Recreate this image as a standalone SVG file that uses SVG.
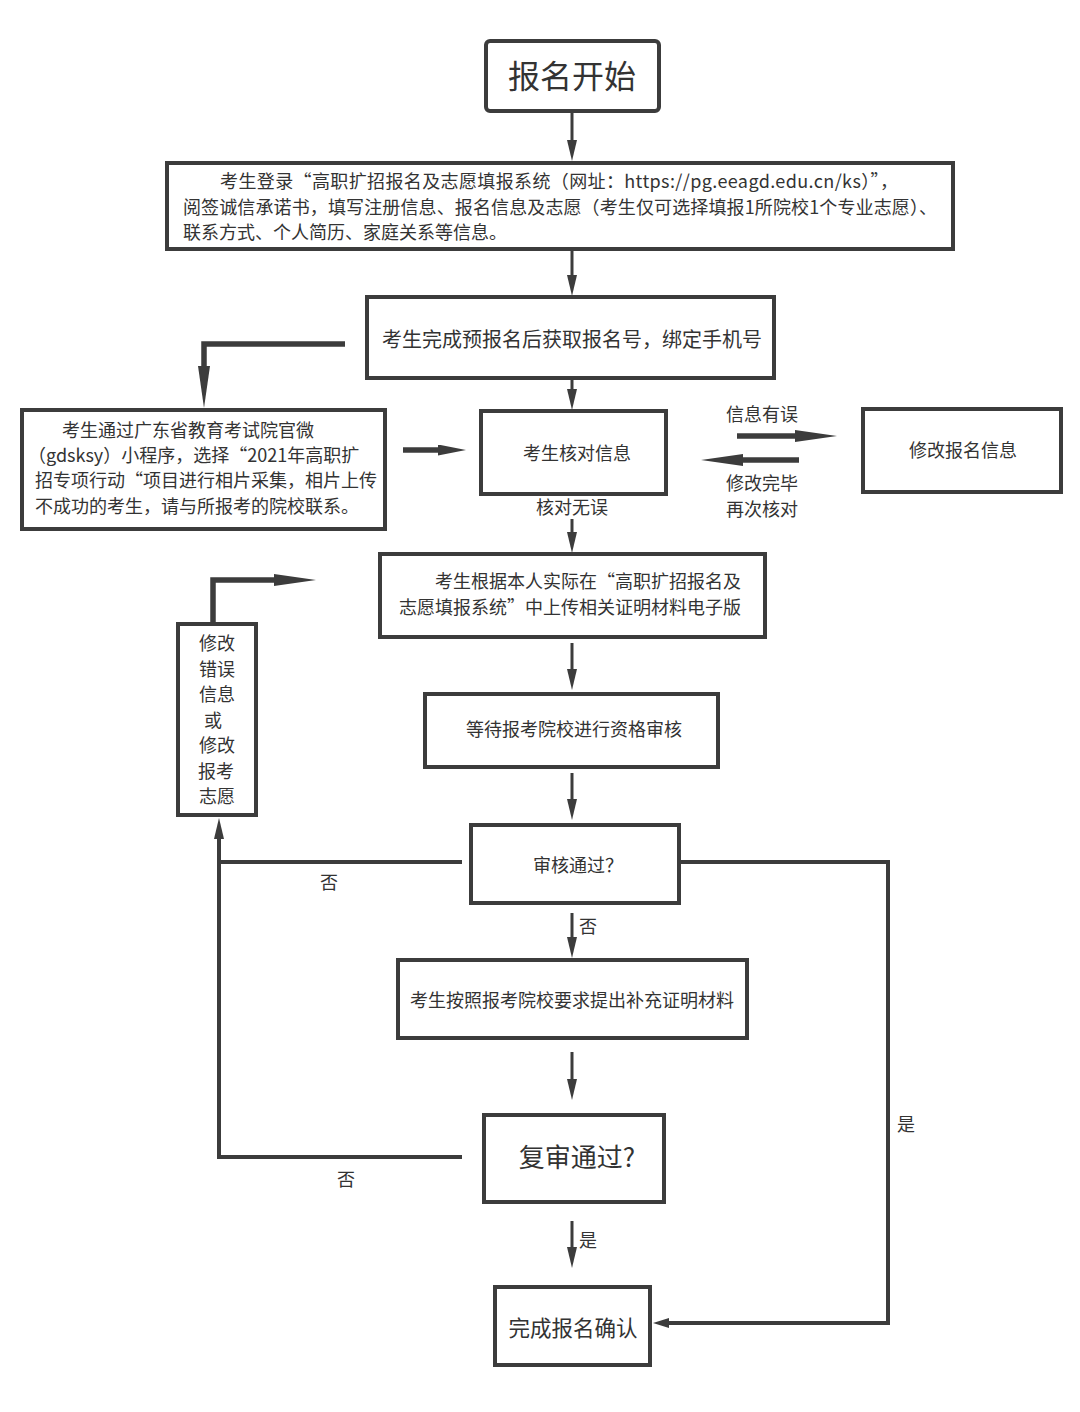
<svg xmlns="http://www.w3.org/2000/svg" width="1080" height="1412" viewBox="0 0 1080 1412">
<style>
  .box{fill:#fff;stroke:#3c3c3c;stroke-width:4}
  .t{font-family:"Noto Sans CJK SC","Noto Sans",sans-serif;fill:#333;font-size:18px}
  .c{text-anchor:middle}
  .thin{fill:none;stroke:#3c3c3c;stroke-width:3}
  .mid{fill:none;stroke:#3c3c3c;stroke-width:4}
  .thick{fill:none;stroke:#3c3c3c;stroke-width:5.5}
</style>
<defs>
  <marker id="ahThin" markerUnits="userSpaceOnUse" viewBox="0 0 21 10" refX="1" refY="5" markerWidth="21" markerHeight="10" orient="auto">
    <path d="M0,0 L21,5 L0,10 z" fill="#3c3c3c"/>
  </marker>
  <marker id="ahSmall" markerUnits="userSpaceOnUse" viewBox="0 0 16 10" refX="1" refY="5" markerWidth="16" markerHeight="10" orient="auto">
    <path d="M0,0 L16,5 L0,10 z" fill="#3c3c3c"/>
  </marker>
  <marker id="ahThick" markerUnits="userSpaceOnUse" viewBox="0 0 42 12" refX="1" refY="6" markerWidth="42" markerHeight="12" orient="auto">
    <path d="M0,0 L42,6 L0,12 z" fill="#3c3c3c"/>
  </marker>
  <marker id="ahThickS" markerUnits="userSpaceOnUse" viewBox="0 0 28 11" refX="1" refY="5.5" markerWidth="28" markerHeight="11" orient="auto">
    <path d="M0,0 L28,5.5 L0,11 z" fill="#3c3c3c"/>
  </marker>
</defs>
<rect width="1080" height="1412" fill="#fff"/>

<g id="connectors">
  <path class="thin" d="M572,111 V141" marker-end="url(#ahThin)"/>
  <path class="thin" d="M572,249 V276" marker-end="url(#ahThin)"/>
  <path class="thin" d="M572,378 V390" marker-end="url(#ahThin)"/>
  <path class="thick" d="M345,344 H204 V367" marker-end="url(#ahThick)"/>
  <path class="thick" d="M403,450 H439" marker-end="url(#ahThickS)"/>
  <path class="thick" d="M737,436 H796" marker-end="url(#ahThick)"/>
  <path class="thick" d="M799,460 H742" marker-end="url(#ahThick)"/>
  <path class="thin" d="M572,519 V533" marker-end="url(#ahThin)"/>
  <path class="thin" d="M572,643 V670" marker-end="url(#ahThin)"/>
  <path class="thin" d="M572,773 V800" marker-end="url(#ahThin)"/>
  <path class="thin" d="M572,913 V938" marker-end="url(#ahThin)"/>
  <path class="thin" d="M572,1052 V1080" marker-end="url(#ahThin)"/>
  <path class="thin" d="M572,1221 V1248" marker-end="url(#ahThin)"/>
  <path class="mid" d="M462,862 H219"/>
  <path class="mid" d="M462,1157 H219 V838" marker-end="url(#ahThin)"/>
  <path class="thick" d="M213,623 V580 H275" marker-end="url(#ahThick)"/>
  <path class="mid" d="M679,862 H888 V1323 H668" marker-end="url(#ahSmall)"/>
  <text class="t c" x="762" y="420.5">信息有误</text>
  <text class="t c" x="762" y="489.5">修改完毕</text>
  <text class="t c" x="762" y="515.5">再次核对</text>
  <text class="t c" x="572" y="513.5">核对无误</text>
  <text class="t c" x="329" y="888.5">否</text>
  <text class="t c" x="588" y="932.5">否</text>
  <text class="t c" x="346" y="1185.5">否</text>
  <text class="t c" x="906" y="1130.5">是</text>
  <text class="t c" x="588" y="1246.5">是</text>
</g>

<g id="start">
  <rect class="box" x="486" y="41" width="173" height="70" rx="4"/>
  <text class="t c" x="572" y="88" style="font-size:32px">报名开始</text>
</g>

<g id="login">
  <rect class="box" x="167" y="163" width="786" height="86"/>
  <text class="t" x="220" y="187.5" textLength="678" lengthAdjust="spacing">考生登录“高职扩招报名及志愿填报系统（网址：https://pg.eeagd.edu.cn/ks）”，</text>
  <text class="t" x="183" y="213.5" textLength="754" lengthAdjust="spacing">阅签诚信承诺书，填写注册信息、报名信息及志愿（考生仅可选择填报1所院校1个专业志愿）、</text>
  <text class="t" x="183" y="238.5">联系方式、个人简历、家庭关系等信息。</text>
</g>

<g id="prereg">
  <rect class="box" x="367" y="297" width="407" height="81"/>
  <text class="t c" x="572" y="347" style="font-size:20px">考生完成预报名后获取报名号，绑定手机号</text>
</g>

<g id="photo">
  <rect class="box" x="22" y="410" width="363" height="119"/>
  <text class="t" x="62" y="436.5">考生通过广东省教育考试院官微</text>
  <text class="t" x="28" y="461.5">（gdsksy）小程序，选择“2021年高职扩</text>
  <text class="t" x="35" y="486.5">招专项行动“项目进行相片采集，相片上传</text>
  <text class="t" x="35" y="512.5">不成功的考生，请与所报考的院校联系。</text>
</g>

<g id="check">
  <rect class="box" x="481" y="411" width="185" height="83"/>
  <text class="t c" x="577" y="459.5">考生核对信息</text>
</g>

<g id="modify">
  <rect class="box" x="863" y="409" width="198" height="83"/>
  <text class="t c" x="963" y="456.5">修改报名信息</text>
</g>

<g id="upload">
  <rect class="box" x="380" y="554" width="385" height="83"/>
  <text class="t" x="435" y="587.5">考生根据本人实际在“高职扩招报名及</text>
  <text class="t" x="399" y="613.5">志愿填报系统”中上传相关证明材料电子版</text>
</g>

<g id="wait">
  <rect class="box" x="425" y="694" width="293" height="73"/>
  <text class="t c" x="574" y="735.5">等待报考院校进行资格审核</text>
</g>

<g id="fix">
  <rect class="box" x="178" y="624" width="78" height="191"/>
  <text class="t c" x="217" y="649.5">修改</text>
  <text class="t c" x="217" y="675.5">错误</text>
  <text class="t c" x="217" y="700.5">信息</text>
  <text class="t c" x="213" y="726.5">或</text>
  <text class="t c" x="217" y="751.5">修改</text>
  <text class="t c" x="216" y="777.5">报考</text>
  <text class="t c" x="217" y="802.5">志愿</text>
</g>

<g id="review">
  <rect class="box" x="471" y="825" width="208" height="78"/>
  <text class="t c" x="578" y="871.5">审核通过？</text>
</g>

<g id="supplement">
  <rect class="box" x="398" y="960" width="349" height="78"/>
  <text class="t c" x="572" y="1006.5">考生按照报考院校要求提出补充证明材料</text>
</g>

<g id="rereview">
  <rect class="box" x="484" y="1115" width="180" height="87"/>
  <text class="t c" x="577" y="1167" style="font-size:26px">复审通过?</text>
</g>

<g id="done">
  <rect class="box" x="495" y="1287" width="155" height="78"/>
  <text class="t c" x="573" y="1336" style="font-size:21.5px">完成报名确认</text>
</g>
</svg>
